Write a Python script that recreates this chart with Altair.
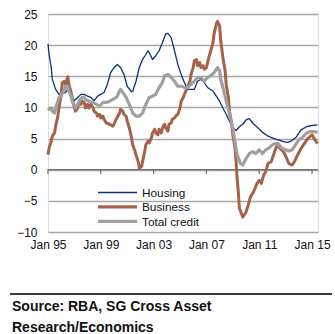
import altair as alt
import pandas as pd

# ---------------- data ----------------
housing_dates = ["1995-01", "1995-02", "1995-04", "1995-05", "1995-08", "1995-11", "1996-02", "1996-05",
                 "1996-07", "1996-08", "1996-10", "1997-01", "1997-04", "1997-07", "1997-10", "1998-01",
                 "1998-04", "1998-07", "1998-10", "1999-01", "1999-04", "1999-07", "1999-10", "2000-01",
                 "2000-04", "2000-07", "2000-10", "2001-01", "2001-05", "2001-06", "2001-09", "2001-12",
                 "2002-03", "2002-06", "2002-08", "2002-09", "2002-12", "2003-03", "2003-06", "2003-09",
                 "2003-12", "2004-02", "2004-05", "2004-08", "2004-11", "2005-02", "2005-05", "2005-08",
                 "2005-11", "2006-02", "2006-05", "2006-08", "2006-11", "2007-02", "2007-07", "2007-10",
                 "2008-01", "2008-04", "2008-07", "2008-10", "2009-01", "2009-04", "2009-07", "2009-10",
                 "2010-01", "2010-04", "2010-07", "2010-12", "2011-04", "2011-10", "2012-04", "2012-11",
                 "2013-03", "2013-06", "2013-11", "2014-03", "2014-08", "2015-01", "2015-06"]
housing_vals = [20.2, 18.5, 16.4, 14.5, 12.9, 12.1, 12.2, 12.4,
                12.9, 12.6, 11.8, 11.1, 11.6, 12.1, 12.1, 11.8,
                11.6, 11.1, 11.8, 12.1, 12.4, 13.7, 15.6, 16.4,
                16.9, 16.4, 15.3, 13.4, 12.5, 12.6, 14.2, 16.4,
                17.7, 18.5, 19.1, 18.8, 17.7, 18.3, 19.1, 20.4,
                21.8, 21.9, 21.2, 19.1, 16.9, 15.3, 14.0, 12.9,
                12.9, 12.9, 14.2, 14.5, 14.0, 13.2, 12.6, 11.8,
                11.0, 9.9, 8.9, 7.8, 6.7, 6.3, 6.9, 7.3,
                8.0, 8.2, 7.5, 6.7, 6.0, 5.3, 4.9, 4.5,
                4.4, 4.6, 5.3, 6.4, 6.9, 7.1, 7.2]

business_dates = ["1995-01", "1995-02", "1995-04", "1995-05", "1995-07", "1995-08", "1995-10", "1995-11",
                  "1996-01", "1996-02", "1996-04", "1996-05", "1996-07", "1996-08", "1996-10", "1996-11",
                  "1997-01", "1997-02", "1997-04", "1997-05", "1997-07", "1997-08", "1997-10", "1997-11",
                  "1998-01", "1998-02", "1998-04", "1998-06", "1998-07", "1998-09", "1998-10", "1998-12",
                  "1999-01", "1999-03", "1999-04", "1999-06", "1999-09", "1999-12", "2000-01", "2000-03",
                  "2000-06", "2000-07", "2000-09", "2000-10", "2000-12", "2001-01", "2001-03", "2001-05",
                  "2001-06", "2001-08", "2001-09", "2001-11", "2001-12", "2002-02", "2002-03", "2002-05",
                  "2002-06", "2002-08", "2002-09", "2002-11", "2002-12", "2003-02", "2003-03", "2003-05",
                  "2003-06", "2003-08", "2003-09", "2003-11", "2003-12", "2004-02", "2004-03", "2004-05",
                  "2004-06", "2004-08", "2004-09", "2004-11", "2005-01", "2005-02", "2005-04", "2005-05",
                  "2005-07", "2005-08", "2005-10", "2005-11", "2006-01", "2006-02", "2006-04", "2006-05",
                  "2006-07", "2006-08", "2006-10", "2006-11", "2007-01", "2007-02", "2007-04", "2007-05",
                  "2007-07", "2007-08", "2007-10", "2007-11", "2008-01", "2008-02", "2008-04", "2008-06",
                  "2008-07", "2008-09", "2008-10", "2008-12", "2009-01", "2009-03", "2009-04", "2009-05",
                  "2009-06", "2009-07", "2009-10", "2010-01", "2010-03", "2010-05", "2010-08", "2010-11",
                  "2011-01", "2011-03", "2011-05", "2011-07", "2011-09", "2011-12", "2012-02", "2012-04",
                  "2012-06", "2012-08", "2012-11", "2013-02", "2013-04", "2013-07", "2013-09", "2013-12",
                  "2014-03", "2014-06", "2014-09", "2015-01", "2015-03", "2015-06"]
business_vals = [2.4, 3.5, 4.6, 5.4, 5.9, 7.0, 8.6, 9.9,
                 12.1, 14.0, 14.2, 13.7, 14.9, 13.7, 12.4, 11.6,
                 9.9, 9.4, 9.9, 10.8, 10.5, 11.0, 10.8, 9.9,
                 10.5, 9.9, 10.5, 9.9, 9.4, 9.1, 8.6, 8.9,
                 8.3, 8.6, 8.1, 7.5, 7.3, 7.0, 7.3, 8.1,
                 9.1, 9.7, 9.4, 8.9, 8.6, 7.8, 6.7, 5.1,
                 4.0, 3.0, 2.4, 1.3, 0.3, 0.5, 1.3, 3.0,
                 4.0, 4.6, 4.3, 5.1, 5.9, 6.5, 5.9, 5.6,
                 6.5, 5.9, 6.7, 7.3, 6.7, 6.2, 7.3, 7.5,
                 8.1, 8.3, 8.6, 8.9, 9.9, 11.0, 11.6, 12.1,
                 12.9, 13.4, 14.2, 15.3, 16.4, 17.5, 17.7, 16.7,
                 17.2, 16.4, 16.7, 16.1, 16.4, 17.2, 18.5, 19.1,
                 20.4, 21.8, 23.4, 23.8, 23.1, 20.7, 18.0, 15.9,
                 13.7, 11.6, 9.4, 7.3, 5.6, 3.5, 1.3, -1.5,
                 -3.5, -6.2, -7.6, -6.8, -5.7, -4.4, -3.5, -2.2,
                 -1.7, -2.2, -0.9, -0.3, 1.0, 1.3, 2.4, 3.4,
                 4.2, 3.4, 2.9, 1.8, 1.0, 0.75, 1.3, 2.4,
                 3.4, 4.2, 5.0, 5.6, 5.0, 4.2]

total_dates = ["1995-01", "1995-02", "1995-04", "1995-05", "1995-07", "1995-08", "1995-10", "1995-11",
               "1996-01", "1996-02", "1996-04", "1996-05", "1996-07", "1996-08", "1996-10", "1996-11",
               "1997-01", "1997-02", "1997-04", "1997-05", "1997-08", "1997-10", "1997-11", "1998-02",
               "1998-06", "1998-09", "1998-12", "1999-03", "1999-06", "1999-09", "1999-12", "2000-03",
               "2000-04", "2000-06", "2000-07", "2000-09", "2000-12", "2001-03", "2001-06", "2001-09",
               "2001-12", "2002-03", "2002-06", "2002-09", "2002-12", "2003-03", "2003-06", "2003-09",
               "2003-11", "2004-02", "2004-05", "2004-08", "2004-11", "2005-02", "2005-05", "2005-08",
               "2005-11", "2006-02", "2006-05", "2006-08", "2006-11", "2007-02", "2007-05", "2007-08",
               "2007-11", "2008-01", "2008-02", "2008-04", "2008-07", "2008-10", "2009-01", "2009-03",
               "2009-05", "2009-08", "2009-10", "2010-01", "2010-04", "2010-07", "2010-10", "2011-01",
               "2011-04", "2011-07", "2011-10", "2012-01", "2012-04", "2012-07", "2012-10", "2013-01",
               "2013-04", "2013-07", "2013-10", "2014-01", "2014-05", "2014-08", "2014-11", "2015-03",
               "2015-06"]
total_vals = [9.9, 9.7, 9.9, 9.4, 9.1, 9.9, 11.0, 11.6,
              11.8, 12.4, 12.7, 13.4, 13.4, 12.6, 11.8, 11.0,
              10.2, 9.9, 10.5, 11.0, 11.6, 11.6, 11.3, 11.0,
              10.8, 10.5, 10.2, 10.8, 10.8, 11.0, 11.3, 11.6,
              11.8, 12.6, 12.9, 12.4, 11.6, 10.5, 9.1, 8.6,
              8.6, 9.1, 10.5, 11.6, 11.8, 12.1, 13.2, 14.0,
              15.1, 15.3, 14.8, 14.2, 13.4, 13.4, 13.2, 13.2,
              13.7, 14.2, 14.8, 14.8, 14.2, 14.8, 15.1, 15.6,
              16.4, 15.9, 14.5, 13.2, 11.0, 8.9, 6.7, 4.5,
              2.4, 1.0, 0.75, 1.8, 2.6, 2.9, 2.6, 3.2,
              2.6, 3.2, 3.5, 4.0, 4.2, 4.0, 3.4, 3.2,
              3.0, 3.2, 4.0, 4.8, 5.3, 5.9, 6.1, 6.1,
              6.0]

series_names = ["Housing", "Business", "Total credit"]
series_colors = ["#0d2f80", "#a2634a", "#a0a0a0"]
series_widths = [1.3, 3.0, 3.2]
tick_dates = ["1995-01-01", "1999-01-01", "2003-01-01", "2007-01-01", "2011-01-01", "2015-01-01"]
y_ticks = [-10, -5, 0, 5, 10, 15, 20, 25]
source_lines = ["Source: RBA, SG Cross Asset", "Research/Economics"]

FONT = "Liberation Sans"


def frame(dates, vals, name):
    return pd.DataFrame({"date": [d + "-01" for d in dates], "value": vals, "series": name})


frames = [frame(housing_dates, housing_vals, "Housing"),
          frame(business_dates, business_vals, "Business"),
          frame(total_dates, total_vals, "Total credit")]

x_scale = alt.Scale(type="utc",
                    domain=[alt.DateTime(year=1995, month=1, date=1, utc=True),
                            alt.DateTime(year=2015, month=6, date=15, utc=True)])
x_axis = alt.Axis(values=[alt.DateTime(year=int(d[:4]), month=1, date=1, utc=True) for d in tick_dates],
                  labelExpr="utcFormat(datum.value, '%b %y')", title=None, grid=False, domain=False,
                  ticks=False, labelPadding=7, labelFontSize=12, labelFont=FONT,
                  labelColor="#111111", labelFlush=False)
y_scale = alt.Scale(domain=[-10, 25], nice=False, zero=False)
y_axis = alt.Axis(values=y_ticks, title=None, domain=False, ticks=False, labelPadding=11,
                  labelFontSize=12, labelFont=FONT, labelColor="#111111",
                  grid=True, gridColor="#a8a8a8", gridWidth=1.5)

layers = []

# zero axis line with ticks
zero_line = alt.Chart(alt.Data(values=[{"z": 0}])).mark_rule(color="#6e6e6e", strokeWidth=1.2).encode(
    y=alt.YDatum(0, scale=y_scale, axis=y_axis))
layers.append(zero_line)
tick_marks = alt.Chart(pd.DataFrame({"date": tick_dates})).mark_rule(
    color="#6e6e6e", strokeWidth=1.2).encode(
    x=alt.X("date:T", scale=x_scale, axis=x_axis),
    y=alt.YDatum(0.1, scale=y_scale, axis=y_axis), y2=alt.Y2Datum(-0.7))
layers.append(tick_marks)

for df, col, w in zip(frames, series_colors, series_widths):
    layers.append(
        alt.Chart(df).mark_line(color=col, strokeWidth=w, strokeJoin="round", interpolate="linear").encode(
            x=alt.X("date:T", scale=x_scale, axis=x_axis),
            y=alt.Y("value:Q", scale=y_scale, axis=y_axis),
        )
    )

# legend (manual, inside the plot)
for i, (name, col, w) in enumerate(zip(series_names, series_colors, series_widths)):
    yy = 178.5 + 14.4 * i
    layers.append(alt.Chart(alt.Data(values=[{"n": name}])).mark_rule(
        color=col, strokeWidth=(1.3 if i == 0 else 3.2)).encode(
        x=alt.value(50), x2=alt.value(89), y=alt.value(yy)))
    layers.append(alt.Chart(alt.Data(values=[{"n": name}])).mark_text(
        align="left", baseline="middle", fontSize=11.8, font=FONT, color="#111111").encode(
        x=alt.value(94), y=alt.value(yy + 0.5), text="n:N"))

# source note
layers.append(alt.Chart(alt.Data(values=[{"r": 0}])).mark_rule(color="#3a3a3a", strokeWidth=2).encode(
    x=alt.value(-38), x2=alt.value(284), y=alt.value(280)))
for j, line in enumerate(source_lines):
    layers.append(alt.Chart(alt.Data(values=[{"t": line}])).mark_text(
        align="left", baseline="middle", fontSize=14, fontWeight="bold", font=FONT,
        color="#111111").encode(
        x=alt.value(-36), y=alt.value(293 + 20.5 * j), text="t:N"))

chart = alt.layer(*layers).properties(
    width=270, height=218,
    autosize=alt.AutoSizeParams(type="none"),
    padding={"left": 48, "top": 14, "right": 17, "bottom": 102},
).configure_view(stroke=None).configure(background="white")

chart.save("out.html", embed_options={"renderer": "svg", "actions": False})
